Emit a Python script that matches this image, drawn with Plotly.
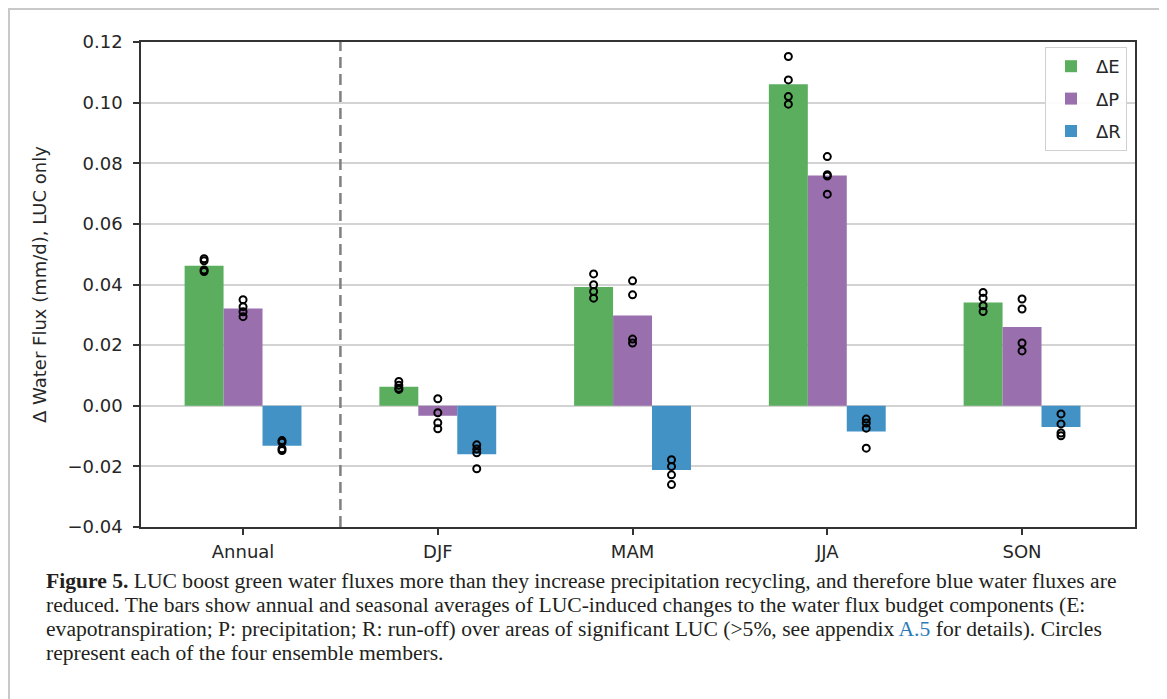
import plotly.graph_objects as go

# ---------------- data ----------------
categories = ["Annual", "DJF", "MAM", "JJA", "SON"]
series_names = ["ΔE", "ΔP", "ΔR"]

E_mean = [0.0462, 0.0063, 0.0392, 0.1061, 0.0341]
P_mean = [0.0321, -0.0033, 0.0298, 0.0760, 0.0260]
R_mean = [-0.0132, -0.0160, -0.0212, -0.0085, -0.0070]

E_members = [
    [0.0485, 0.0478, 0.0448, 0.0443],
    [0.0080, 0.0068, 0.0058, 0.0054],
    [0.0435, 0.0399, 0.0377, 0.0355],
    [0.1152, 0.1075, 0.1020, 0.0995],
    [0.0374, 0.0355, 0.0330, 0.0311],
]
P_members = [
    [0.0350, 0.0327, 0.0310, 0.0294],
    [0.0023, -0.0023, -0.0056, -0.0076],
    [0.0412, 0.0366, 0.0220, 0.0207],
    [0.0822, 0.0762, 0.0758, 0.0698],
    [0.0352, 0.0319, 0.0207, 0.0181],
]
R_members = [
    [-0.0115, -0.0120, -0.0142, -0.0148],
    [-0.0129, -0.0143, -0.0155, -0.0208],
    [-0.0178, -0.0200, -0.0228, -0.0260],
    [-0.0044, -0.0057, -0.0074, -0.0140],
    [-0.0027, -0.0060, -0.0090, -0.0099],
]

y_ticks = [-0.04, -0.02, 0.00, 0.02, 0.04, 0.06, 0.08, 0.10, 0.12]

caption_lines = [
    "<b>Figure 5.</b> LUC boost green water fluxes more than they increase precipitation recycling, and therefore blue water fluxes are",
    "reduced. The bars show annual and seasonal averages of LUC-induced changes to the water flux budget components (E:",
    "evapotranspiration; P: precipitation; R: run-off) over areas of significant LUC (&gt;5%, see appendix <span style='color:#2b7bb9'>A.5</span> for details). Circles",
    "represent each of the four ensemble members.",
]

# ---------------- styling ----------------
colors = ["#5aae5e", "#9a6fae", "#4292c6"]
bar_w = 0.2
offsets = [-bar_w, 0.0, bar_w]

# page has an 8px body margin; work in page pixels and convert
PAGE_OFF = 8
W, H = 1159, 691
PL, PR, PT, PB = 141, 1135, 42, 527          # plot box in page pixels
L = PL - PAGE_OFF
T = PT - PAGE_OFF
R = W - (PR - PAGE_OFF)
B = H - (PB - PAGE_OFF)
plot_w, plot_h = W - L - R, H - T - B

def px_x(x):
    return (x - PL) / plot_w

def px_y(y):
    return (PB - y) / plot_h

fig = go.Figure()
means = [E_mean, P_mean, R_mean]
members = [E_members, P_members, R_members]
idx = list(range(len(categories)))

for k in range(3):
    fig.add_trace(go.Bar(
        x=[i + offsets[k] for i in idx],
        y=means[k],
        width=bar_w,
        name=series_names[k],
        marker=dict(color=colors[k], line=dict(width=0)),
        legendgroup=series_names[k],
    ))

for k in range(3):
    xs, ys = [], []
    for i in idx:
        for v in members[k][i]:
            xs.append(i + offsets[k])
            ys.append(v)
    fig.add_trace(go.Scatter(
        x=xs, y=ys, mode="markers", showlegend=False,
        marker=dict(symbol="circle-open", size=7, color="black",
                    line=dict(width=2, color="black")),
        hoverinfo="skip",
    ))

# dashed separator between Annual and seasons
fig.add_shape(type="line", xref="x", yref="paper", x0=0.5, x1=0.5, y0=0, y1=1,
              line=dict(color="#7f7f7f", width=2.5, dash="11px,6px"))

# outer frame
fig.add_shape(type="rect", xref="paper", yref="paper",
              x0=px_x(9), x1=px_x(1163), y0=px_y(720), y1=px_y(9),
              line=dict(color="#c8c8c8", width=2), fillcolor="rgba(0,0,0,0)", layer="below")

line_y = [581, 605, 629, 653]
for txt, yy in zip(caption_lines, line_y):
    fig.add_annotation(text=txt, xref="paper", yref="paper", x=px_x(44), y=px_y(yy),
                       xanchor="left", yanchor="middle", showarrow=False, align="left",
                       font=dict(family="Liberation Serif", size=21.6, color="#231f20"))

axis_col = "#333333"
tick_font = dict(family="DejaVu Sans", size=18, color="#262626")
fig.update_layout(
    width=W, height=H,
    margin=dict(l=L, r=R, t=T, b=B),
    paper_bgcolor="white", plot_bgcolor="white",
    barmode="overlay",
    showlegend=True,
    legend=dict(x=px_x(1127), y=px_y(47), xanchor="right", yanchor="top",
                bgcolor="rgba(255,255,255,0.9)", bordercolor="#d0d0d0", borderwidth=1,
                font=dict(family="DejaVu Sans", size=18, color="#262626"),
                tracegroupgap=6, itemwidth=40),
    xaxis=dict(range=[-0.524, 4.58], tickmode="array", tickvals=idx, ticktext=categories,
               showgrid=False, zeroline=False, showline=True, linecolor=axis_col, linewidth=1.5,
               mirror=True, ticks="outside", ticklen=6, tickwidth=1.5, tickcolor=axis_col,
               tickfont=tick_font, ticklabelstandoff=2),
    yaxis=dict(range=[-0.04, 0.12], tickmode="array", tickvals=y_ticks, tickformat=".2f",
               showgrid=True, gridcolor="#d3d3d3", gridwidth=1.5, zeroline=False,
               showline=True, linecolor=axis_col, linewidth=1.5, mirror=True,
               ticks="outside", ticklen=6, tickwidth=1.5, tickcolor=axis_col,
               tickfont=tick_font, ticklabelstandoff=7,
               title=dict(text="Δ Water Flux (mm/d), LUC only", standoff=16,
                          font=dict(family="DejaVu Sans", size=18, color="#262626"))),
)

fig.write_html("out.html")
